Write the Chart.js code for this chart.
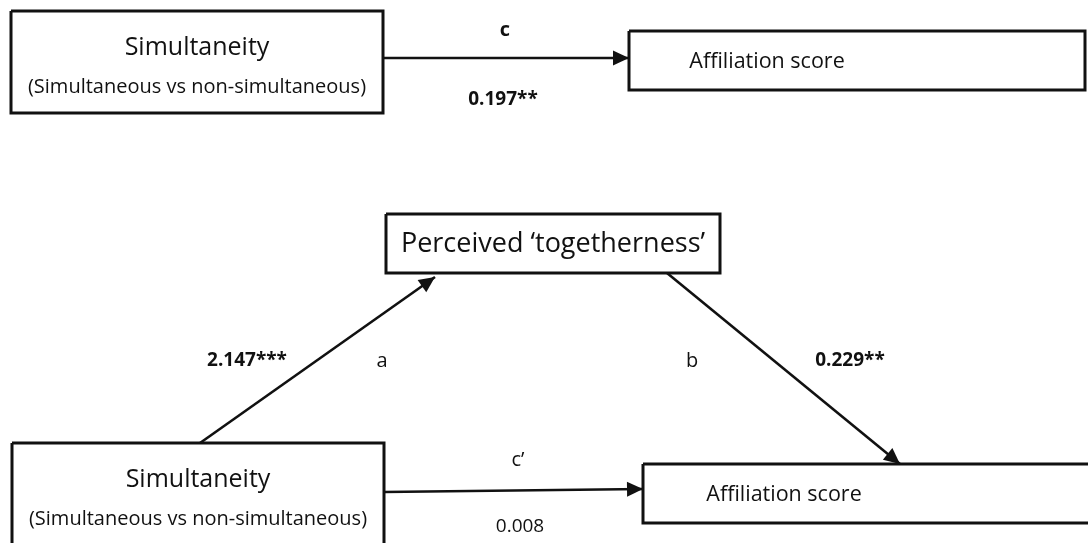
<!DOCTYPE html>
<html lang="en">
<head>
    <meta charset="UTF-8">
    <title>Mediation model</title>
    <script src="https://cdn.jsdelivr.net/npm/chart.js"></script>
    <style>
        html, body { margin: 0; padding: 0; background: #fff; }
        canvas { display: block; }
    </style>
</head>
<body>
    <canvas id="pathChart" width="1088" height="543"></canvas>

    <script>
        // node texts
        const nodeTitles = ['Simultaneity', 'Affiliation score', 'Perceived \u2018togetherness\u2019', 'Simultaneity', 'Affiliation score'];
        const nodeSubtitles = ['(Simultaneous vs non-simultaneous)', '', '', '(Simultaneous vs non-simultaneous)', ''];

        // paths: name, coefficient, significant (bold)
        const pathNames = ['c', 'a', 'b', 'c\u2019'];
        const pathCoefs = ['0.197**', '2.147***', '0.229**', '0.008'];
        const pathBold = [true, true, true, false];

        // layout (page pixels, y down)
        const boxRects = [
            [11, 11, 383, 113],
            [629, 31, 1085, 90],
            [386, 214, 720, 273],
            [12, 443, 384, 548],
            [643, 464, 1096, 523]
        ];
        const arrowEnds = [
            [383, 58, 629, 58],
            [200, 443, 435, 277],
            [667, 273, 900, 464],
            [384, 492, 643, 489]
        ];
        const nameSpots = [[505, 30], [382, 361], [692, 361], [518, 460]];
        const coefSpots = [[503, 100], [247, 361], [850, 361], [520, 527]];
        const textSpots = [[197, 0], [767, 0], [553, 0], [198, 0], [784, 0]];

        const FONT = '"Open Sans", "DejaVu Sans", sans-serif';
        const INK = '#111111';

        const datasets = [];
        boxRects.forEach((r, i) => {
            datasets.push({
                label: nodeTitles[i],
                data: [
                    { x: r[0], y: r[1] }, { x: r[2], y: r[1] },
                    { x: r[2], y: r[3] }, { x: r[0], y: r[3] },
                    { x: r[0], y: r[1] }
                ],
                showLine: true,
                borderColor: INK,
                borderWidth: 3,
                pointRadius: 0,
                fill: false,
                tension: 0
            });
        });
        arrowEnds.forEach((a, i) => {
            datasets.push({
                label: pathNames[i],
                data: [{ x: a[0], y: a[1] }, { x: a[2], y: a[3] }],
                showLine: true,
                borderColor: INK,
                borderWidth: 2.6,
                pointRadius: 0,
                fill: false
            });
        });

        // arrowheads and all text
        const diagramText = {
            id: 'diagramText',
            afterDatasetsDraw(chart) {
                const ctx = chart.ctx;
                const px = v => chart.scales.x.getPixelForValue(v);
                const py = v => chart.scales.y.getPixelForValue(v);
                ctx.save();

                // arrowheads
                ctx.fillStyle = INK;
                arrowEnds.forEach(a => {
                    const x1 = px(a[0]), y1 = py(a[1]), x2 = px(a[2]), y2 = py(a[3]);
                    const ang = Math.atan2(y2 - y1, x2 - x1);
                    const len = 16, half = 7.5;
                    ctx.beginPath();
                    ctx.moveTo(x2, y2);
                    ctx.lineTo(x2 - len * Math.cos(ang) + half * Math.sin(ang), y2 - len * Math.sin(ang) - half * Math.cos(ang));
                    ctx.lineTo(x2 - len * Math.cos(ang) - half * Math.sin(ang), y2 - len * Math.sin(ang) + half * Math.cos(ang));
                    ctx.closePath();
                    ctx.fill();
                });

                // node labels
                ctx.textAlign = 'center';
                ctx.textBaseline = 'middle';
                boxRects.forEach((r, i) => {
                    const cx = px(textSpots[i][0]);
                    if (nodeSubtitles[i]) {
                        ctx.font = '25px ' + FONT;
                        ctx.fillText(nodeTitles[i], cx, py(r[1] + 37));
                        ctx.font = '20px ' + FONT;
                        ctx.fillText(nodeSubtitles[i], cx, py(r[1] + 76));
                    } else {
                        ctx.font = (i === 2 ? '27px ' : '21.5px ') + FONT;
                        ctx.fillText(nodeTitles[i], cx, py((r[1] + r[3]) / 2 + 1));
                    }
                });

                // path names and coefficients
                pathNames.forEach((n, i) => {
                    ctx.font = (i === 0 ? 'bold ' : '') + '20px ' + FONT;
                    ctx.fillText(n, px(nameSpots[i][0]), py(nameSpots[i][1]));
                    ctx.font = (pathBold[i] ? 'bold ' : '') + '19px ' + FONT;
                    ctx.fillText(pathCoefs[i], px(coefSpots[i][0]), py(coefSpots[i][1]));
                });
                ctx.restore();
            }
        };

        new Chart(document.getElementById('pathChart').getContext('2d'), {
            type: 'scatter',
            data: { datasets: datasets },
            options: {
                responsive: false,
                animation: false,
                layout: { padding: 0 },
                scales: {
                    x: { type: 'linear', min: 0, max: 1088, display: false },
                    y: { type: 'linear', min: 0, max: 543, reverse: true, display: false }
                },
                plugins: {
                    legend: { display: false },
                    tooltip: { enabled: false }
                },
                clip: false
            },
            plugins: [diagramText]
        });
    </script>
</body>
</html>
